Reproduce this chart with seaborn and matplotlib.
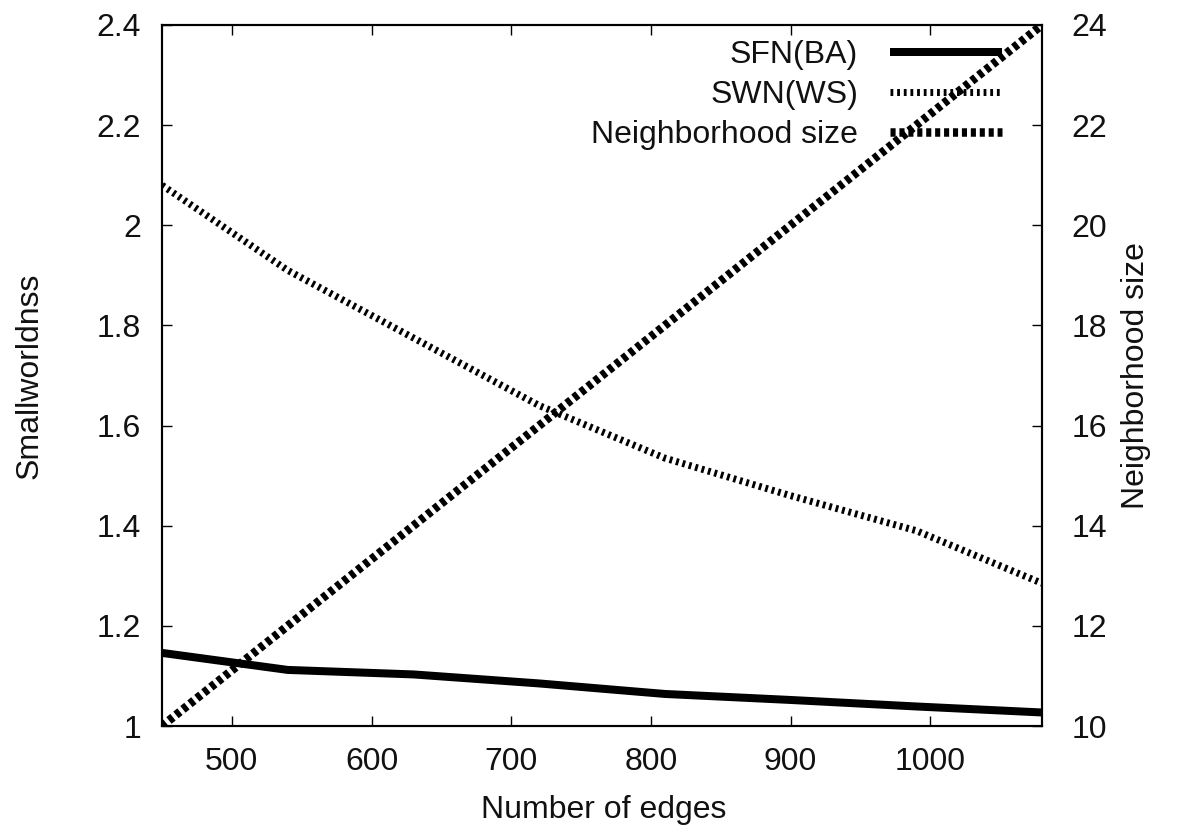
import matplotlib
matplotlib.use("Agg")
import matplotlib.pyplot as plt
import seaborn as sns
import pandas as pd

# Network size sweep: number of edges vs. small-worldness and neighborhood size
edges = [450, 540, 630, 720, 810, 900, 990, 1080]
sfn_ba = [1.146, 1.112, 1.103, 1.085, 1.064, 1.052, 1.039, 1.027]
swn_ws = [2.08, 1.91, 1.775, 1.64, 1.535, 1.46, 1.39, 1.285]
neighborhood = [10, 12, 14, 16, 18, 20, 22, 24]

labels = ["SFN(BA)", "SWN(WS)", "Neighborhood size"]
x_ticks = [500, 600, 700, 800, 900, 1000]
y_ticks = [1, 1.2, 1.4, 1.6, 1.8, 2, 2.2, 2.4]
y2_ticks = [10, 12, 14, 16, 18, 20, 22, 24]

df = pd.DataFrame({"edges": edges, "sfn": sfn_ba, "swn": swn_ws, "nh": neighborhood})

FS = 23
sns.set_theme(style="white")
plt.rcParams["font.family"] = ["Liberation Sans", "DejaVu Sans"]
plt.rcParams["font.size"] = FS

W, H = 1179, 826
fig = plt.figure(figsize=(W / 100, H / 100), dpi=100)
L, R, T, B = 162, 1042, 25, 726
ax = fig.add_axes([L / W, 1 - B / H, (R - L) / W, (B - T) / H])
ax2 = ax.twinx()

px = 0.72  # points per pixel at 100 dpi

sns.lineplot(data=df, x="edges", y="sfn", ax=ax, color="black",
             linewidth=8 * px, label=labels[0], legend=False)
sns.lineplot(data=df, x="edges", y="swn", ax=ax, color="black",
             linewidth=7 * px, label=labels[1], legend=False)
sns.lineplot(data=df, x="edges", y="nh", ax=ax2, color="black",
             linewidth=8.5 * px, label=labels[2], legend=False)

l_sfn, l_swn = ax.lines[0], ax.lines[1]
l_nh = ax2.lines[0]
l_sfn.set_solid_capstyle("butt")
l_swn.set_linestyle((0, (0.4, 0.55)))
l_swn.set_dash_capstyle("butt")
l_nh.set_linestyle((0, (0.6, 0.45)))
l_nh.set_dash_capstyle("butt")

ax.set_xlim(450, 1080)
ax.set_ylim(1, 2.4)
ax2.set_ylim(10, 24)
ax.set_xticks(x_ticks)
ax.set_xticklabels([str(v) for v in x_ticks])
ax.set_yticks(y_ticks)
ax.set_yticklabels(["1", "1.2", "1.4", "1.6", "1.8", "2", "2.2", "2.4"])
ax2.set_yticks(y2_ticks)
ax2.set_yticklabels([str(v) for v in y2_ticks])

ax.set_xlabel("")
ax.set_ylabel("")
ax2.set_ylabel("")

for a in (ax, ax2):
    for s in a.spines.values():
        s.set_visible(True)
        s.set_color("black")
        s.set_linewidth(1.5)

ax.tick_params(axis="x", direction="in", length=7.2, width=1.0, pad=15,
               top=True, bottom=True, colors="black", labelsize=FS)
ax.tick_params(axis="y", direction="in", length=7.5, width=1.0, pad=15,
               left=True, right=False, colors="black", labelsize=FS)
ax2.tick_params(axis="y", direction="in", length=7.5, width=1.0, pad=21,
                left=False, right=True, colors="black", labelsize=FS)
for lab in ax.get_xticklabels() + ax.get_yticklabels() + ax2.get_yticklabels():
    lab.set_color("#111111")

fig.text(604 / W, 1 - 818 / H, "Number of edges", ha="center", va="baseline",
         fontsize=FS, color="#111111")
fig.text(30 / W, 1 - 375.5 / H, "Smallworldnss", ha="center", va="center",
         rotation=90, fontsize=FS, color="#111111")
fig.text(1136 / W, 1 - 375.5 / H, "Neighborhood size", ha="center", va="center",
         rotation=90, fontsize=FS, color="#111111")

leg = ax2.legend([l_sfn, l_swn, l_nh], labels, loc="upper right",
                 bbox_to_anchor=((1002 - L) / (R - L), 1 - (40 - T) / (B - T)),
                 frameon=False, markerfirst=False, handlelength=3.5,
                 handletextpad=1.0, labelspacing=0.32, borderpad=0,
                 borderaxespad=0, fontsize=FS)
# right-align the legend labels against their line samples
for col in leg._legend_handle_box.get_children():
    col.align = "right"
for t in leg.get_texts():
    t.set_color("#111111")

fig.savefig("out.png", dpi=100)
